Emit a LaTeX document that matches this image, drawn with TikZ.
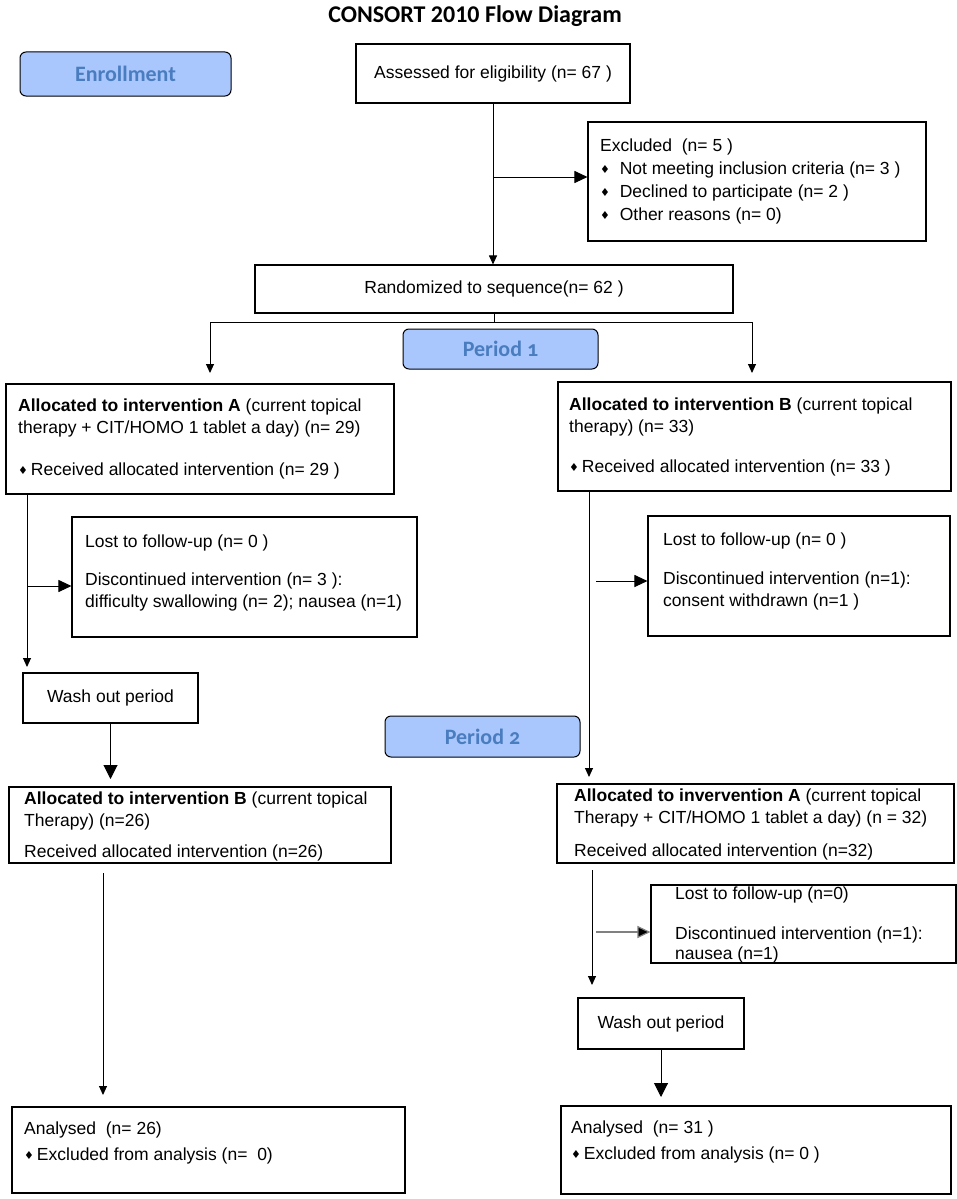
\documentclass[tikz,border=0pt]{standalone}
\usepackage{fontspec}
\setmainfont{Liberation Sans}
\newfontfamily\labfont[Numbers=OldStyle]{Carlito}
\newfontfamily\titlefont{Carlito}
\newfontfamily\symfont{DejaVu Sans}
\usetikzlibrary{arrows.meta,fit}
\definecolor{labfill}{HTML}{A9C7FC}
\definecolor{labtext}{HTML}{4A7DBF}
\newcommand{\bul}{{\symfont\fontsize{11}{11}\selectfont\raisebox{1pt}{♦}}}
\begin{document}
\begin{tikzpicture}[x=1pt,y=-1pt,
  box/.style={draw, line width=1.1pt, inner sep=0pt, font=\fontsize{17.5}{22}\selectfont},
  lab/.style={draw, line width=1pt, rounded corners=6pt, fill=labfill, inner sep=0pt,
              text=labtext, font=\labfont\bfseries\fontsize{22}{22}\selectfont},
  txt/.style={inner sep=0pt, anchor=north west, align=left, font=\fontsize{17.5}{22}\selectfont},
  arr/.style={-{Triangle[length=9pt,width=8pt]}, line width=1pt},
  barr/.style={-{Triangle[length=13pt,width=12pt]}, line width=1pt},
  warr/.style={-{Triangle[length=14pt,width=14pt]}, line width=1pt}]
\useasboundingbox (0,0) rectangle (957,1199);
\fill[white] (0,0) rectangle (957,1199);

\node[font=\titlefont\bfseries\fontsize{24}{24}\selectfont] (title) at (475,16) {CONSORT 2010 Flow Diagram};

% labels
\node[lab, minimum width=211pt, minimum height=44pt] (enroll) at (125.5,74) {Enrollment};
\node[lab, minimum width=195pt, minimum height=40pt] (per1) at (500.5,349) {Period 1};
\node[lab, minimum width=195pt, minimum height=41pt] (per2) at (482.5,736.5) {Period 2};

% enrollment
\node[box, minimum width=274pt, minimum height=59pt] (assess) at (493,73.5) {Assessed for eligibility (n= 67 )};
\node[box, fit={(588,122) (926,241)}] (excl) {};
\node[txt, font=\fontsize{17.5}{23}\selectfont] (excltxt) at (600,139) {Excluded\ \ (n= 5 )\\
\bul\ \ Not meeting inclusion criteria (n= 3 )\\
\bul\ \ Declined to participate (n= 2 )\\
\bul\ \ Other reasons (n= 0)};
\node[box, minimum width=478pt, minimum height=48pt] (rand) at (494,289) {Randomized to sequence(n= 62 )};

\draw[arr] (assess.south) -- (assess.south |- rand.north);
\draw[barr] (assess.south |- 0,177) -- (excl.west |- 0,177);

\coordinate (sL) at (210,322);
\coordinate (sR) at (752,322);
\coordinate (tL) at (210,373);
\coordinate (tR) at (752,373);
\draw[line width=1pt] (rand.south) -- (rand.south |- sL);
\draw[line width=1pt] (sL) -- (sR);
\draw[arr] (sL) -- (tL);
\draw[arr] (sR) -- (tR);

% period 1
\node[box, fit={(6,384) (394,494)}] (allocA) {};
\node[txt] (allocAtxt) at (18,399) {\textbf{Allocated to intervention A} (current topical\\
therapy + CIT/HOMO 1 tablet a day) (n= 29)\\[20pt]
\bul\,Received allocated intervention (n= 29 )};
\node[box, fit={(558,382) (951,491)}] (allocB) {};
\node[txt] (allocBtxt) at (569,398) {\textbf{Allocated to intervention B} (current topical\\
therapy) (n= 33)\\[18pt]
\bul\,Received allocated intervention (n= 33 )};

\node[box, fit={(72,517) (417,637)}] (lostA) {};
\node[txt] (lostAtxt) at (85,535) {Lost to follow-up (n= 0 )\\[16pt]
Discontinued intervention (n= 3 ):\\
difficulty swallowing (n= 2); nausea (n=1)};
\node[box, fit={(648,516) (950,636)}] (lostB) {};
\node[txt] (lostBtxt) at (663,533) {Lost to follow-up (n= 0 )\\[17pt]
Discontinued intervention (n=1):\\
consent withdrawn (n=1 )};

\node[box, minimum width=175pt, minimum height=50pt] (washA) at (110.5,698) {Wash out period};

\draw[arr] (allocA.south -| 27,0) -- (27,667);
\draw[barr] (27,586) -- (lostA.west |- 0,586);
\draw[arr] (allocB.south -| 589,0) -- (589,777);
\draw[barr] (596,581) -- (lostB.west |- 0,581);

% period 2
\node[box, fit={(9,787) (391,863)}] (allocB2) {};
\node[txt] (allocB2txt) at (24,792) {\textbf{Allocated to intervention B} (current topical\\
Therapy) (n=26)\\[9pt]
Received allocated intervention (n=26)};
\node[box, fit={(557,784) (954,863)}] (allocA2) {};
\node[txt] (allocA2txt) at (574,789) {\textbf{Allocated to invervention A} (current topical\\
Therapy + CIT/HOMO 1 tablet a day) (n = 32)\\[11pt]
Received allocated intervention (n=32)};

\draw[warr] (washA.south) -- (washA.south |- 0,779);

\node[box, fit={(651,885) (956,963)}] (lostC) {};
\node[txt, font=\fontsize{17.5}{20}\selectfont] (lostCtxt) at (675,887) {Lost to follow-up (n=0)\\[20pt]
Discontinued intervention (n=1):\\
nausea (n=1)};
\node[box, minimum width=166pt, minimum height=51pt] (washB) at (661,1023.5) {Wash out period};

\draw[arr] (592,870) -- (592,985);
\draw[line width=1.2pt, draw=gray, -{Triangle[length=13pt,width=12pt,fill=black]}] (596,932) -- (lostC.west |- 0,932);
\draw[warr] (washB.south) -- (washB.south |- 0,1097);

% analysis
\node[box, fit={(12,1107) (405,1193)}] (anA) {};
\node[txt] (anAtxt) at (24,1122) {Analysed\ \ (n= 26)\\[4pt]
\bul\,Excluded from analysis (n=\ \ 0)};
\node[box, fit={(561,1106) (951,1194)}] (anB) {};
\node[txt] (anBtxt) at (571,1121) {Analysed\ \ (n= 31 )\\[4pt]
\bul\,Excluded from analysis (n= 0 )};

\draw[arr] (103,873) -- (103,1095);
\end{tikzpicture}
\end{document}
